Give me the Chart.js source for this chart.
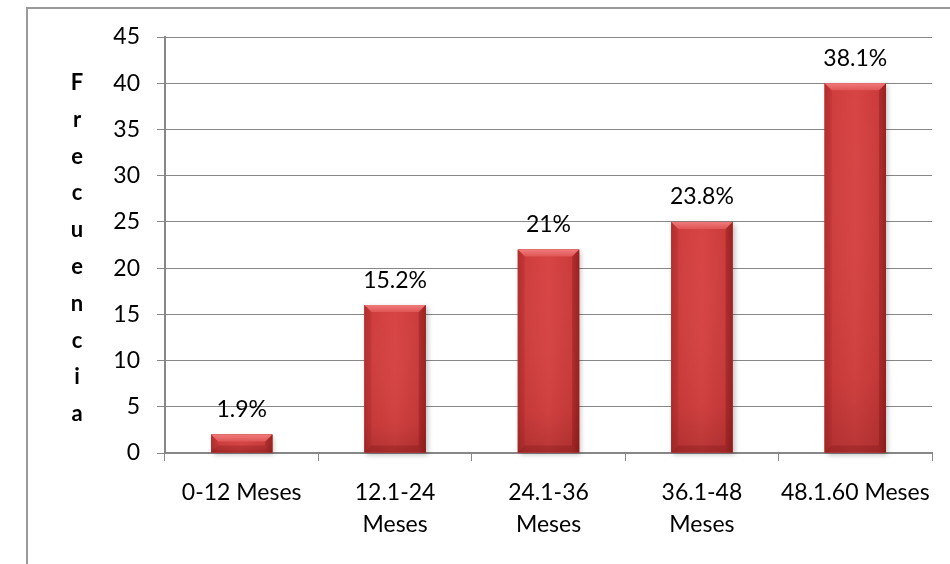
<!DOCTYPE html>
<html>
<head>
<meta charset="utf-8">
<script src="https://cdn.jsdelivr.net/npm/chart.js@4/dist/chart.umd.min.js"></script>
<style>
  html, body { margin: 0; padding: 0; background: #fff; }
  #wrap { width: 950px; height: 564px; position: relative; }
</style>
</head>
<body>
<div id="wrap"><canvas id="c" width="950" height="564"></canvas></div>
<script>
// Tiempo (meses) y frecuencia de casos
const categories = ['0-12 Meses', ['12.1-24', 'Meses'], ['24.1-36', 'Meses'], ['36.1-48', 'Meses'], '48.1.60 Meses'];
const frecuencia = [2, 16, 22, 25, 40];
const yTicks = [0, 5, 10, 15, 20, 25, 30, 35, 40, 45];
const yTitle = 'Frecuencia';

const total = frecuencia.reduce((a, b) => a + b, 0);
function pctLabel(v) {
  let s = (v / total * 100).toFixed(1);
  if (s.endsWith('.0')) s = s.slice(0, -2);
  return s + '%';
}

const FONT = 'Lato, "Open Sans", sans-serif';
const FS = 23;
const GRID = '#878787';

// outer frame of the chart object
const framePlugin = {
  id: 'frame',
  beforeDraw(chart) {
    const ctx = chart.ctx;
    ctx.save();
    ctx.strokeStyle = '#9a9a9a';
    ctx.lineWidth = 2;
    ctx.strokeRect(27, 8, 1000, 1000);
    ctx.restore();
  }
};

// soft shadow under each bar
const shadowPlugin = {
  id: 'barShadow',
  beforeDatasetsDraw(chart) {
    const ctx = chart.ctx;
    const meta = chart.getDatasetMeta(0);
    ctx.save();
    meta.data.forEach(bar => {
      const p = bar.getProps(['x', 'y', 'base', 'width'], true);
      const l = p.x - p.width / 2;
      ctx.shadowColor = 'rgba(0,0,0,0.25)';
      ctx.shadowBlur = 5;
      ctx.shadowOffsetX = 2;
      ctx.shadowOffsetY = 2;
      ctx.fillStyle = '#c23a3a';
      ctx.fillRect(l, p.y, p.width, p.base - p.y);
    });
    ctx.restore();
  }
};

// bevelled look of the bars, plus the percentage labels
const bevelPlugin = {
  id: 'bevel',
  afterDatasetsDraw(chart) {
    const ctx = chart.ctx;
    const meta = chart.getDatasetMeta(0);
    ctx.save();
    meta.data.forEach((bar, i) => {
      const p = bar.getProps(['x', 'y', 'base', 'width'], true);
      const l = p.x - p.width / 2, r = p.x + p.width / 2;
      const t = p.y, b = p.base;
      const h = b - t;
      const e = Math.min(7, h / 2);
      // body
      const g = ctx.createLinearGradient(l, 0, r, 0);
      g.addColorStop(0, '#b93232');
      g.addColorStop(0.12, '#cf3d3d');
      g.addColorStop(0.5, '#d84444');
      g.addColorStop(0.88, '#cb3b3b');
      g.addColorStop(1, '#ab2b2b');
      ctx.fillStyle = g;
      ctx.fillRect(l, t, r - l, h);
      const vg = ctx.createLinearGradient(0, t, 0, b);
      vg.addColorStop(0, 'rgba(255,255,255,0)');
      vg.addColorStop(0.8, 'rgba(60,0,0,0.06)');
      vg.addColorStop(1, 'rgba(60,0,0,0.2)');
      ctx.fillStyle = vg;
      ctx.fillRect(l, t, r - l, h);
      // top face
      const tg = ctx.createLinearGradient(0, t, 0, t + e);
      tg.addColorStop(0, '#ef7b7b');
      tg.addColorStop(1, '#e05555');
      ctx.fillStyle = tg;
      ctx.beginPath();
      ctx.moveTo(l, t); ctx.lineTo(r, t); ctx.lineTo(r - e, t + e); ctx.lineTo(l + e, t + e); ctx.closePath();
      ctx.fill();
      // left face
      ctx.fillStyle = 'rgba(150,30,30,0.18)';
      ctx.beginPath();
      ctx.moveTo(l, t); ctx.lineTo(l + e, t + e); ctx.lineTo(l + e, b - e); ctx.lineTo(l, b); ctx.closePath();
      ctx.fill();
      // right face
      ctx.fillStyle = 'rgba(110,10,10,0.28)';
      ctx.beginPath();
      ctx.moveTo(r, t); ctx.lineTo(r - e, t + e); ctx.lineTo(r - e, b - e); ctx.lineTo(r, b); ctx.closePath();
      ctx.fill();
      // bottom face
      ctx.fillStyle = 'rgba(100,10,10,0.22)';
      ctx.beginPath();
      ctx.moveTo(l, b); ctx.lineTo(l + e, b - e); ctx.lineTo(r - e, b - e); ctx.lineTo(r, b); ctx.closePath();
      ctx.fill();

      // value label
      ctx.fillStyle = '#000';
      ctx.font = FS + 'px ' + FONT;
      ctx.textAlign = 'center';
      ctx.textBaseline = 'middle';
      ctx.fillText(pctLabel(frecuencia[i]), p.x, t - 25);
    });
    ctx.restore();
  }
};

// stacked (one letter per line) y-axis title
const yTitlePlugin = {
  id: 'yTitle',
  afterDraw(chart) {
    const ctx = chart.ctx;
    const letters = yTitle.split('');
    const step = 36.8;
    const first = 90;
    ctx.save();
    ctx.fillStyle = '#000';
    ctx.font = 'bold ' + (FS - 1) + 'px ' + FONT;
    ctx.textAlign = 'center';
    ctx.textBaseline = 'alphabetic';
    letters.forEach((ch, i) => ctx.fillText(ch, 77, first + i * step));
    ctx.restore();
  }
};

new Chart(document.getElementById('c'), {
  type: 'bar',
  data: {
    labels: categories,
    datasets: [{
      data: frecuencia,
      backgroundColor: '#d04040',
      borderWidth: 0,
      categoryPercentage: 1,
      barPercentage: 0.4
    }]
  },
  plugins: [framePlugin, shadowPlugin, bevelPlugin, yTitlePlugin],
  options: {
    responsive: false,
    animation: false,
    devicePixelRatio: 1,
    layout: { padding: { left: 0, right: 18, top: 37, bottom: 0 } },
    plugins: { legend: { display: false }, tooltip: { enabled: false } },
    scales: {
      x: {
        grid: { display: true, drawOnChartArea: false, drawTicks: true, tickLength: 8, color: GRID, lineWidth: 1, offset: true },
        border: { display: true, color: GRID, width: 2 },
        ticks: {
          color: '#000',
          font: { family: FONT, size: FS, lineHeight: 32 / FS },
          padding: 16,
          maxRotation: 0,
          autoSkip: false
        },
        afterFit(scale) { scale.height = 564 - 453; }
      },
      y: {
        min: 0,
        max: 45,
        afterBuildTicks(scale) { scale.ticks = yTicks.map(v => ({ value: v })); },
        grid: { color: GRID, lineWidth: 1, drawTicks: true, tickLength: 8 },
        border: { display: true, color: GRID, width: 2 },
        ticks: {
          color: '#000',
          font: { family: FONT, size: FS },
          padding: 17
        },
        afterFit(scale) { scale.width = 165; }
      }
    }
  }
});
</script>
</body>
</html>
